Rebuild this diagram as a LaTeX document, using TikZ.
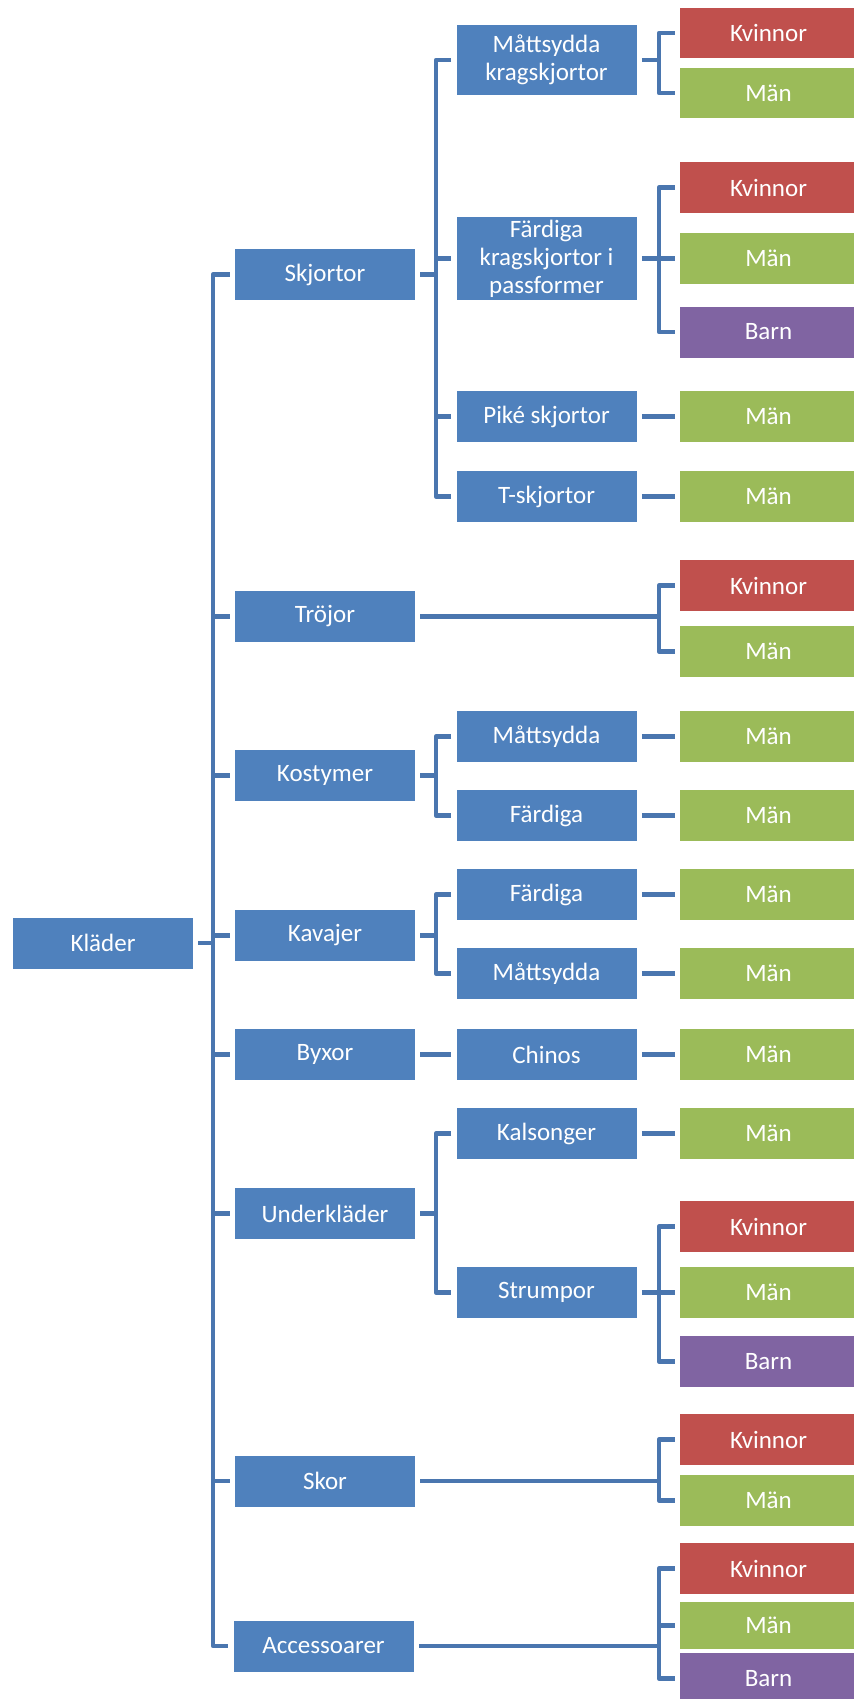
\documentclass[tikz,border=0pt]{standalone}
\usepackage{fontspec}
\setmainfont{Carlito}
\definecolor{bbox}{HTML}{4F81BD}
\definecolor{rbox}{HTML}{C0504D}
\definecolor{gbox}{HTML}{9BBB59}
\definecolor{pbox}{HTML}{8064A2}
\definecolor{lcol}{HTML}{4A76AF}
\begin{document}
\begin{tikzpicture}[x=0.5pt,y=-0.5pt,
  box/.style={minimum width=90pt, minimum height=25.5pt, inner sep=0pt, align=center, text=white,
    font=\fontsize{12.5pt}{14pt}\selectfont},
  bl/.style={box, fill=bbox},
  leaf/.style={box, minimum width=88.5pt},
  kv/.style={leaf, fill=rbox},
  mn/.style={leaf, fill=gbox},
  bn/.style={leaf, fill=pbox},
  conn/.style={draw=lcol, line width=2.2pt, line join=round}]
\useasboundingbox (0,0) rectangle (854,1699);
% bus positions
\coordinate (busA) at (213,0);
\coordinate (busB) at (436,0);
\coordinate (busC) at (659,0);
% root
\node[bl] (kl) at (103,943) {Kläder};
% level 1
\node[bl] (skj) at (325,274.5) {Skjortor};
\node[bl] (tro) at (325,616.5) {Tröjor};
\node[bl] (kos) at (325,775.5) {Kostymer};
\node[bl] (kav) at (325,935.5) {Kavajer};
\node[bl] (byx) at (325,1054.5) {Byxor};
\node[bl] (und) at (325,1213.5) {Underkläder};
\node[bl] (sko) at (325,1481) {Skor};
\node[bl] (acc) at (323.5,1646) {Accessoarer};
% level 2
\node[bl, minimum height=35pt] (mk) at (546.5,60) {Måttsydda\\kragskjortor};
\node[bl, minimum height=41.5pt] (fk) at (546.5,258.5) {Färdiga\\kragskjortor i\\passformer};
\node[bl] (pik) at (546.5,416.5) {Piké skjortor};
\node[bl] (tsk) at (546.5,496.5) {T-skjortor};
\node[bl] (kom) at (546.5,736.5) {Måttsydda};
\node[bl] (kof) at (546.5,815.5) {Färdiga};
\node[bl] (kaf) at (546.5,894.5) {Färdiga};
\node[bl] (kam) at (546.5,973.5) {Måttsydda};
\node[bl] (chi) at (546.5,1054.5) {Chinos};
\node[bl] (kal) at (546.5,1133.5) {Kalsonger};
\node[bl] (str) at (546.5,1292.5) {Strumpor};
% leaves
\node[kv, minimum height=25pt] (k1) at (768.5,33) {Kvinnor};
\node[mn, minimum height=25pt] (m1) at (768.5,93) {Män};
\node[kv] (k2) at (768.5,187.5) {Kvinnor};
\node[mn] (m2) at (768.5,258.5) {Män};
\node[bn] (b2) at (768.5,332) {Barn};
\node[mn] (m3) at (768.5,416.5) {Män};
\node[mn] (m4) at (768.5,496.5) {Män};
\node[kv] (k5) at (768.5,585.5) {Kvinnor};
\node[mn] (m5) at (768.5,651.5) {Män};
\node[mn] (m6) at (768.5,736.5) {Män};
\node[mn] (m7) at (768.5,815.5) {Män};
\node[mn] (m8) at (768.5,894.5) {Män};
\node[mn] (m9) at (768.5,973.5) {Män};
\node[mn] (m10) at (768.5,1054.5) {Män};
\node[mn] (m11) at (768.5,1133.5) {Män};
\node[kv] (k12) at (768.5,1226.5) {Kvinnor};
\node[mn] (m12) at (768.5,1292.5) {Män};
\node[bn] (b12) at (768.5,1361.5) {Barn};
\node[kv] (k13) at (768.5,1439.5) {Kvinnor};
\node[mn] (m13) at (768.5,1500.5) {Män};
\node[kv] (k14) at (768.5,1568.5) {Kvinnor};
\node[mn, minimum height=23.5pt] (m14) at (768.5,1625.5) {Män};
\node[bn] (b14) at (768.5,1678.5) {Barn};
% ---- connectors root
\draw[conn] ([xshift=2.5pt]kl.east) -- (kl.east -| busA);
\draw[conn] ([xshift=-2.5pt]skj.west) -- (skj.west -| busA) -- (acc.west -| busA) -- ([xshift=-2.5pt]acc.west);
\foreach \c in {tro,kos,kav,byx,und,sko}
  \draw[conn] (\c.west -| busA) -- ([xshift=-2.5pt]\c.west);
% Skjortor
\draw[conn] ([xshift=2.5pt]skj.east) -- (skj.east -| busB);
\draw[conn] ([xshift=-2.5pt]mk.west) -- (mk.west -| busB) -- (tsk.west -| busB) -- ([xshift=-2.5pt]tsk.west);
\foreach \c in {fk,pik}
  \draw[conn] (\c.west -| busB) -- ([xshift=-2.5pt]\c.west);
% Kostymer
\draw[conn] ([xshift=2.5pt]kos.east) -- (kos.east -| busB);
\draw[conn] ([xshift=-2.5pt]kom.west) -- (kom.west -| busB) -- (kof.west -| busB) -- ([xshift=-2.5pt]kof.west);
% Kavajer
\draw[conn] ([xshift=2.5pt]kav.east) -- (kav.east -| busB);
\draw[conn] ([xshift=-2.5pt]kaf.west) -- (kaf.west -| busB) -- (kam.west -| busB) -- ([xshift=-2.5pt]kam.west);
% Byxor
\draw[conn] ([xshift=2.5pt]byx.east) -- ([xshift=-2.5pt]chi.west);
% Underklader
\draw[conn] ([xshift=2.5pt]und.east) -- (und.east -| busB);
\draw[conn] ([xshift=-2.5pt]kal.west) -- (kal.west -| busB) -- (str.west -| busB) -- ([xshift=-2.5pt]str.west);
% level 2 -> leaves
\draw[conn] ([xshift=2.5pt]mk.east) -- (mk.east -| busC);
\draw[conn] ([xshift=-2.5pt]k1.west) -- (k1.west -| busC) -- (m1.west -| busC) -- ([xshift=-2.5pt]m1.west);
\draw[conn] ([xshift=2.5pt]fk.east) -- (fk.east -| busC);
\draw[conn] ([xshift=-2.5pt]k2.west) -- (k2.west -| busC) -- (b2.west -| busC) -- ([xshift=-2.5pt]b2.west);
\draw[conn] (m2.west -| busC) -- ([xshift=-2.5pt]m2.west);
\draw[conn] ([xshift=2.5pt]pik.east) -- ([xshift=-2.5pt]m3.west);
\draw[conn] ([xshift=2.5pt]tsk.east) -- ([xshift=-2.5pt]m4.west);
\draw[conn] ([xshift=2.5pt]tro.east) -- (tro.east -| busC);
\draw[conn] ([xshift=-2.5pt]k5.west) -- (k5.west -| busC) -- (m5.west -| busC) -- ([xshift=-2.5pt]m5.west);
\draw[conn] ([xshift=2.5pt]kom.east) -- ([xshift=-2.5pt]m6.west);
\draw[conn] ([xshift=2.5pt]kof.east) -- ([xshift=-2.5pt]m7.west);
\draw[conn] ([xshift=2.5pt]kaf.east) -- ([xshift=-2.5pt]m8.west);
\draw[conn] ([xshift=2.5pt]kam.east) -- ([xshift=-2.5pt]m9.west);
\draw[conn] ([xshift=2.5pt]chi.east) -- ([xshift=-2.5pt]m10.west);
\draw[conn] ([xshift=2.5pt]kal.east) -- ([xshift=-2.5pt]m11.west);
\draw[conn] ([xshift=2.5pt]str.east) -- (str.east -| busC);
\draw[conn] ([xshift=-2.5pt]k12.west) -- (k12.west -| busC) -- (b12.west -| busC) -- ([xshift=-2.5pt]b12.west);
\draw[conn] (m12.west -| busC) -- ([xshift=-2.5pt]m12.west);
\draw[conn] ([xshift=2.5pt]sko.east) -- (sko.east -| busC);
\draw[conn] ([xshift=-2.5pt]k13.west) -- (k13.west -| busC) -- (m13.west -| busC) -- ([xshift=-2.5pt]m13.west);
\draw[conn] ([xshift=2.5pt]acc.east) -- (acc.east -| busC);
\draw[conn] ([xshift=-2.5pt]k14.west) -- (k14.west -| busC) -- (b14.west -| busC) -- ([xshift=-2.5pt]b14.west);
\draw[conn] (m14.west -| busC) -- ([xshift=-2.5pt]m14.west);
\end{tikzpicture}
\end{document}
